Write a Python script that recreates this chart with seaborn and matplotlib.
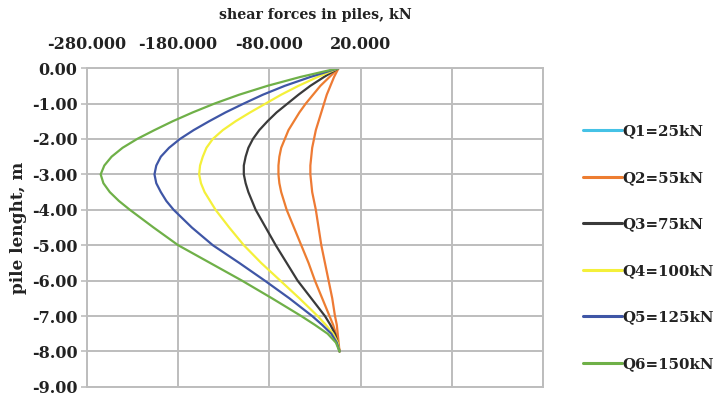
import matplotlib
matplotlib.use("Agg")
import matplotlib.pyplot as plt
from matplotlib.lines import Line2D
import seaborn as sns
import pandas as pd

depth = [0.0, -0.25, -0.5, -0.75, -1.0, -1.25, -1.5, -1.75, -2.0, -2.25, -2.5, -2.75,
         -3.0, -3.25, -3.5, -3.75, -4.0, -4.5, -5.0, -5.5, -6.0, -6.5, -7.0,
         -7.25, -7.5, -7.75, -8.0]

q1 = [-4, -9, -13, -17, -20, -23, -26, -29, -31, -33, -34, -35, -35, -34, -33, -31, -29,
      -26, -23, -19, -15, -11, -8, -6, -5, -4, -3]
q2 = [-4, -14, -24, -32, -40, -47, -53, -59, -63, -67, -69, -70, -70, -69, -67, -64, -61,
      -53, -45, -37, -30, -22, -14, -10, -7, -5, -3]
q3 = [-4, -20, -35, -48, -60, -72, -82, -91, -98, -103, -106, -108, -108, -106, -103, -99, -95,
      -84, -73, -61, -49, -34, -19, -13, -8, -5, -3]
q4 = [-4, -27, -48, -67, -84, -101, -117, -131, -142, -149, -153, -156, -157, -155, -151, -145, -139,
      -124, -108, -89, -68, -47, -27, -18, -10, -5, -3]
q5 = [-4, -35, -63, -87, -108, -128, -146, -163, -178, -190, -199, -204, -206, -204, -199, -193, -185,
      -165, -142, -113, -85, -58, -33, -22, -12, -6, -3]
q6 = [-4, -46, -82, -113, -140, -164, -186, -206, -225, -241, -253, -261, -265, -262, -255, -245, -233,
      -207, -180, -145, -110, -77, -45, -30, -16, -7, -3]

series_names = ["Q1=25kN", "Q2=55kN", "Q3=75kN", "Q4=100kN", "Q5=125kN", "Q6=150kN"]
series_values = [q1, q2, q3, q4, q5, q6]
# colours of the drawn curves (the innermost curve appears orange in the reference)
line_colors = ["#EE7A35", "#ED7D31", "#3A3A3A", "#F4F03A", "#3F56A6", "#6FB048"]
legend_colors = ["#45C2E6", "#ED7D31", "#3A3A3A", "#F4F03A", "#3F56A6", "#6FB048"]

x_ticks = [-280, -180, -80, 20, 120, 220]
x_labels = ["-280.000", "-180.000", "-80.000", "20.000", "", ""]
y_ticks = [0, -1, -2, -3, -4, -5, -6, -7, -8, -9]

rows = []
for name, vals in zip(series_names, series_values):
    for d, v in zip(depth, vals):
        rows.append({"series": name, "shear": v, "depth": d})
df = pd.DataFrame(rows)

sns.set_theme(style="white")
plt.rcParams["font.family"] = ["DejaVu Serif"]

fig = plt.figure(figsize=(7.19, 3.96), dpi=100)
ax = fig.add_axes([0.121, 0.023, 0.634, 0.805])

sns.lineplot(data=df, x="shear", y="depth", hue="series", hue_order=series_names,
             palette=dict(zip(series_names, line_colors)), sort=False,
             estimator=None, legend=False, linewidth=1.6, ax=ax)

ax.set_xlim(-280, 220)
ax.set_ylim(-9, 0)
ax.set_xticks(x_ticks)
ax.set_xticklabels(x_labels)
ax.set_yticks(y_ticks)
ax.set_yticklabels([f"{t:.2f}" for t in y_ticks])
ax.xaxis.tick_top()
ax.xaxis.set_label_position("top")
ax.grid(True, color="#BDBDBD", linewidth=1.4)
ax.set_axisbelow(True)
for s in ax.spines.values():
    s.set_color("#BDBDBD")
    s.set_linewidth(1.4)
ax.tick_params(axis="x", length=0, pad=11, labelsize=11.5)
ax.tick_params(axis="y", length=4, color="#BDBDBD", width=1.2, pad=3, labelsize=11.5, left=True)
for lab in ax.get_xticklabels() + ax.get_yticklabels():
    lab.set_fontweight("bold")
    lab.set_color("#222222")

ax.set_xlabel("shear forces in piles, kN", fontsize=10.2, fontweight="bold", labelpad=12, color="#222222")
ax.set_ylabel("pile lenght, m", fontsize=12.2, fontweight="bold", labelpad=3, color="#222222")

handles = [Line2D([0], [0], color=c, linewidth=2.2) for c in legend_colors]
leg = fig.legend(handles, series_names, loc="upper left", bbox_to_anchor=(0.801, 0.705),
                 frameon=False, prop={"family": "DejaVu Serif", "weight": "bold", "size": 10.8},
                 handlelength=2.6, handletextpad=0.0, labelspacing=2.17, borderpad=0)
for t in leg.get_texts():
    t.set_color("#222222")

fig.savefig("out.png", dpi=100)
